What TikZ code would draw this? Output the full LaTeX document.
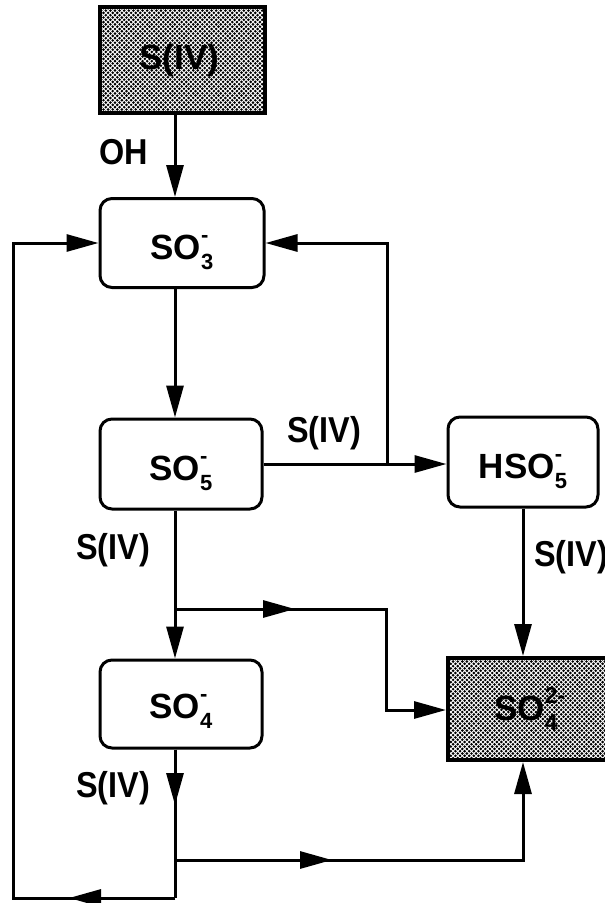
\documentclass[tikz,border=0pt]{standalone}
\usepackage{fontspec}
\setmainfont{Liberation Sans}
\newfontfamily\narrowfont{Liberation Sans}[FakeStretch=0.9]
\usetikzlibrary{arrows.meta,patterns}
\pgfdeclarepatternformonly{bigdots}{\pgfpoint{-1.5pt}{-1.5pt}}{\pgfpoint{3.8pt}{3.8pt}}{\pgfpoint{4.6pt}{4.6pt}}{%
  \pgfpathcircle{\pgfpoint{0pt}{0pt}}{1.45pt}%
  \pgfpathcircle{\pgfpoint{2.3pt}{2.3pt}}{1.45pt}%
  \pgfusepath{fill}}
\newcommand{\ionX}[3]{#1\makebox[0pt][l]{\raisebox{17pt}{\fontsize{22}{22}\selectfont #3}}\raisebox{-10pt}{\fontsize{22}{22}\selectfont #2}}
\newcommand{\ionY}[3]{#1\makebox[0pt][l]{\raisebox{17pt}{\fontsize{23}{23}\selectfont #3}}\raisebox{-10pt}{\fontsize{23}{23}\selectfont #2}}
\begin{document}
\begin{tikzpicture}[x=1pt,y=-1pt,
  lab/.style={font=\fontsize{36}{40}\selectfont\narrowfont\bfseries,inner sep=0pt},
  boxtext/.style={font=\fontsize{35}{40}\selectfont\bfseries,inner sep=0pt},
  box/.style={draw,line width=3pt,rounded corners=12pt,inner sep=0pt},
  shadebox/.style={draw,line width=4pt,inner sep=0pt,preaction={fill=white},pattern=bigdots,pattern color=black},
  conn/.style={line width=3pt},
  arr/.style={conn,-{Triangle[length=32pt,width=17pt]}}
]
\useasboundingbox (0,0) rectangle (605,903);
\coordinate (spine) at (175,0);
\coordinate (rx) at (387,0);
\coordinate (lx) at (13,0);
\coordinate (hx) at (523,0);

\node[shadebox, minimum width=165pt, minimum height=106pt,
  label={[boxtext,xshift=-3pt]center:S(IV)}] (siv) at (182.5,60) {};
\node[box, minimum width=164pt, minimum height=89pt,
  label={[boxtext,yshift=-9pt]center:\ionX{SO}{3}{-}}] (so3) at (182,243) {};
\node[box, minimum width=162pt, minimum height=90pt,
  label={[boxtext,yshift=-9pt]center:\ionX{SO}{5}{-}}] (so5) at (181,464) {};
\node[box, minimum width=150pt, minimum height=90pt,
  label={[boxtext,yshift=-9pt]center:\ionX{HSO}{5}{-}}] (hso5) at (523,462) {};
\node[box, minimum width=162pt, minimum height=88pt,
  label={[boxtext,yshift=-7pt]center:\ionX{SO}{4}{-}}] (so4) at (181,704) {};
\node[shadebox, minimum width=176pt, minimum height=102pt,
  label={[boxtext,xshift=-10pt]center:\ionY{SO}{4}{2-}}] (sulf) at (536,709) {};

\node[lab] (oh) at (124,152) {OH};
\node[lab] (l1) at (324,433) {S(IV)};
\node[lab] (l2) at (113,550) {S(IV)};
\node[lab] (l3) at (571,557) {S(IV)};
\node[lab] (l4) at (113,788) {S(IV)};

\draw[arr] (siv.south -| spine) -- (so3.north -| spine);
\draw[arr] (so3.south -| spine) -- (so5.north -| spine);
\draw[arr] (so5.south -| spine) -- (so4.north -| spine);

\draw[arr] (so5.east) -- (so5.east -| hso5.west);
\coordinate (r1) at (so5.east -| rx);
\draw[arr] (r1) -- (rx |- so3.east) -- (so3.east);

\draw[arr] (hso5.south) -- (hso5.south |- sulf.north);

\coordinate (b1) at (175,609);
\coordinate (b1m) at (295,609);
\coordinate (b1c) at (386,609);
\coordinate (b1d) at (386,710);
\draw[arr] (b1) -- (b1c) -- (b1d) -- (sulf.west |- b1d);
\draw[arr] (b1) -- (b1m);

\coordinate (m2) at (175,805);
\coordinate (b2) at (175,860);
\coordinate (bot) at (175,898);
\draw[conn] (so4.south -| spine) -- (bot);
\draw[arr] (so4.south -| spine) -- (m2);
\coordinate (b2m) at (332,860);
\draw[arr] (b2) -- (hx |- b2) -- (hx |- sulf.south);
\draw[arr] (b2) -- (b2m);

\coordinate (botm) at (69,898);
\coordinate (bl) at (13,898);
\draw[arr] (bot) -- (bl) -- (lx |- so3.west) -- (so3.west);
\draw[arr] (bot) -- (botm);
\end{tikzpicture}
\end{document}
